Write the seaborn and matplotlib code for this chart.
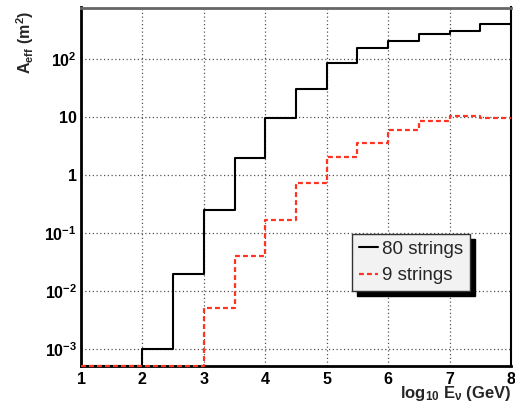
import numpy as np
import matplotlib
matplotlib.use("Agg")
import matplotlib.pyplot as plt
import matplotlib.ticker as mticker
from matplotlib.patches import Rectangle
from matplotlib.transforms import IdentityTransform
import seaborn as sns

# bin edges in log10(E/GeV) and effective area per bin (m^2)
bin_edges = [1.0, 1.5, 2.0, 2.5, 3.0, 3.5, 4.0, 4.5, 5.0, 5.5, 6.0, 6.5, 7.0, 7.5, 8.0]
area_80 = [0, 0, 0.001, 0.020, 0.25, 1.95, 9.7, 30, 84, 150, 199, 262, 295, 389]
area_9 = [0, 0, 0, 0, 0.0052, 0.041, 0.17, 0.72, 2.0, 3.6, 5.9, 8.6, 10.4, 9.4]
labels = ["80 strings", "9 strings"]

y_min, y_max = 5.15e-4, 760


def step_values(values):
    # ROOT draws empty bins on the axis floor
    vals = np.clip(np.array(values, dtype=float), y_min, None)
    return list(vals) + [vals[-1]]


def main():
    sns.set_style("white")
    plt.rcParams["font.family"] = ["Liberation Sans", "DejaVu Sans"]
    plt.rcParams["mathtext.fontset"] = "custom"
    plt.rcParams["mathtext.bf"] = "Liberation Sans:bold"
    plt.rcParams["mathtext.rm"] = "Liberation Sans:bold"
    plt.rcParams["mathtext.it"] = "Liberation Sans:bold"
    plt.rcParams["mathtext.default"] = "bf"

    fig = plt.figure(figsize=(5.15, 4.03), dpi=100)
    ax = fig.add_axes([81 / 515, 1 - 366 / 403, 430 / 515, 358.5 / 403])

    sns.lineplot(x=bin_edges, y=step_values(area_80), drawstyle="steps-post",
                 color="black", lw=1.5, label=labels[0], ax=ax,
                 clip_on=False, zorder=3)
    sns.lineplot(x=bin_edges, y=step_values(area_9), drawstyle="steps-post",
                 color="#ff3322", lw=1.6, ls=(0, (2.2, 1.4)), label=labels[1],
                 ax=ax, clip_on=False, zorder=3.5)

    ax.set_yscale("log")
    ax.set_xlim(1, 8)
    ax.set_ylim(y_min, y_max)

    # ticks, ROOT style
    ax.xaxis.set_major_locator(mticker.MultipleLocator(1))
    ax.xaxis.set_minor_locator(mticker.MultipleLocator(0.2))
    ax.yaxis.set_major_locator(mticker.LogLocator(base=10, numticks=20))
    ax.yaxis.set_minor_locator(mticker.LogLocator(base=10, subs=np.arange(2, 10), numticks=20))
    ax.yaxis.set_minor_formatter(mticker.NullFormatter())

    def ylab(v, pos):
        e = int(round(np.log10(v)))
        if e == 0:
            return "1"
        if e == 1:
            return "10"
        return r"$\mathbf{10^{%d}}$" % e

    ax.yaxis.set_major_formatter(mticker.FuncFormatter(ylab))
    ax.tick_params(which="both", direction="in", colors="black", labelsize=11.5)
    ax.tick_params(axis="y", which="major", length=8, width=1, pad=3)
    ax.tick_params(axis="y", which="minor", length=5, width=1)
    ax.tick_params(axis="x", which="major", length=8, width=1, pad=4)
    ax.tick_params(axis="x", which="minor", length=3.5, width=1)
    for t in ax.get_xticklabels() + ax.get_yticklabels():
        t.set_fontweight("bold")

    ax.grid(True, which="major", ls=(0, (1, 2)), color="#555555", lw=0.9)

    for side, c, w in [("left", "black", 2), ("bottom", "black", 2),
                       ("top", "#666666", 2), ("right", "black", 1.5)]:
        ax.spines[side].set_color(c)
        ax.spines[side].set_linewidth(w)
        ax.spines[side].set_visible(True)

    ax.set_xlabel(r"log$_{10}$ E$_{\nu}$ (GeV)", fontsize=12, fontweight="bold")
    ax.xaxis.set_label_coords(1.0, -0.05)
    ax.xaxis.label.set_ha("right")
    ax.xaxis.label.set_va("top")
    ax.set_ylabel(r"A$_{eff}$ (m$^{2}$)", fontsize=11.5, fontweight="bold")
    ax.yaxis.set_label_coords(-0.105, 0.99)
    ax.yaxis.label.set_ha("right")

    # legend with a solid black shadow
    leg = ax.legend(loc="upper left", bbox_to_anchor=(352 / 515, 1 - 234 / 403),
                    bbox_transform=fig.transFigure, borderaxespad=0,
                    fontsize=13.5, frameon=True, fancybox=False, framealpha=1,
                    handlelength=1.05, handletextpad=0.2, borderpad=0.35,
                    labelspacing=0.5)
    leg.get_frame().set_facecolor("#f2f2f2")
    leg.get_frame().set_edgecolor("#333333")
    leg.get_frame().set_linewidth(1)
    leg.set_zorder(6)

    fig.canvas.draw()
    bb = leg.get_window_extent()
    ax.add_patch(Rectangle((bb.x0 + 5, bb.y0 - 5), bb.width, bb.height,
                           transform=IdentityTransform(), color="black",
                           zorder=5, clip_on=False))

    fig.savefig("out.png", dpi=100)


if __name__ == "__main__":
    main()
